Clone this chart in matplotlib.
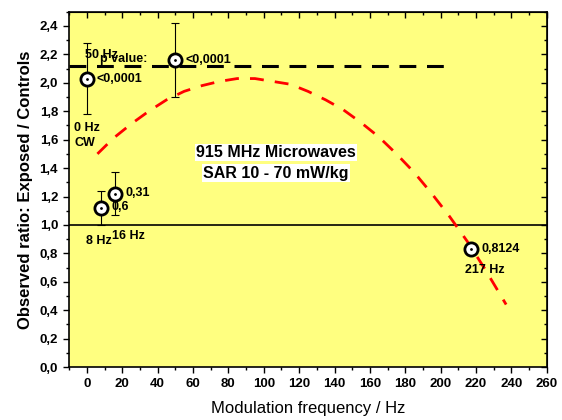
import matplotlib
matplotlib.use("Agg")
import matplotlib.pyplot as plt
from matplotlib.ticker import MultipleLocator, FuncFormatter

plt.rcParams["font.family"] = ["Liberation Sans", "DejaVu Sans"]

# -- Data
freq = [0, 8, 16, 50, 217]
ratio = [2.03, 1.12, 1.22, 2.16, 0.83]
err_low = [0.25, 0.12, 0.15, 0.26, 0.04]
err_high = [0.25, 0.12, 0.15, 0.26, 0.04]
p_labels = ["<0,0001", "0,6", "0,31", "<0,0001", "0,8124"]

# fitted trend (red dashed)
fit_x = [6, 15, 25, 35, 45, 55, 65, 75, 85, 95, 105, 115, 125,
         135, 145, 155, 165, 175, 185, 195, 205, 215, 225, 237]
fit_y = [1.50, 1.61, 1.71, 1.80, 1.88, 1.94, 1.98, 2.01, 2.03, 2.03,
         2.01, 1.99, 1.94, 1.88, 1.81, 1.72, 1.62, 1.50, 1.37, 1.22,
         1.06, 0.885, 0.69, 0.44]

# significance threshold line
thr_x = [-10, 206]
thr_y = [2.12, 2.12]

BG = "#FFFF80"

fig = plt.figure(figsize=(5.62, 4.2), dpi=100)
ax = fig.add_axes([0.123, 0.126, 0.850, 0.846])
ax.set_facecolor(BG)

ax.axhline(1.0, color="black", linewidth=1.2, zorder=2)
ax.plot(thr_x, thr_y, color="black", linewidth=2.2,
        dashes=(5.5, 3.5), zorder=2)
ax.plot(fit_x, fit_y, color="red", linewidth=2.0,
        dashes=(5, 4), zorder=3)

ax.errorbar(freq, ratio, yerr=[err_low, err_high], fmt="none",
            ecolor="black", elinewidth=0.8, capsize=3, capthick=0.8,
            zorder=4)
ax.plot(freq, ratio, "o", markersize=9.5, markerfacecolor="white",
        markeredgecolor="black", markeredgewidth=2, zorder=5)
ax.plot(freq, ratio, ".", markersize=2, color="black", zorder=6)

tkw = dict(fontsize=9, fontweight="bold", va="center", zorder=7)
ax.text(5.5, 2.03, p_labels[0], **tkw)
ax.text(14, 1.125, p_labels[1], **tkw)
ax.text(22, 1.225, p_labels[2], **tkw)
ax.text(56, 2.16, p_labels[3], **tkw)
ax.text(223, 0.83, p_labels[4], **tkw)

ax.text(-1, 2.195, "50 Hz", **tkw)
ax.text(7.5, 2.17, "p value:", **tkw)
ax.text(-7, 1.68, "0 Hz", **tkw)
ax.text(-7, 1.575, "CW", **tkw)
ax.text(-0.5, 0.89, "8 Hz", **tkw)
ax.text(14, 0.925, "16 Hz", **tkw)
ax.text(214, 0.68, "217 Hz", **tkw)

box = dict(facecolor="white", edgecolor="none", pad=1)
ax.text(107, 1.51, "915 MHz Microwaves", ha="center", va="center",
        fontsize=11.5, fontweight="bold", bbox=box, zorder=7)
ax.text(107, 1.365, "SAR 10 - 70 mW/kg", ha="center", va="center",
        fontsize=11.5, fontweight="bold", bbox=box, zorder=7)

ax.set_xlim(-10, 260)
ax.set_ylim(0, 2.5)
ax.xaxis.set_major_locator(MultipleLocator(20))
ax.xaxis.set_minor_locator(MultipleLocator(10))
ax.yaxis.set_major_locator(MultipleLocator(0.2))
ax.yaxis.set_minor_locator(MultipleLocator(0.1))
ax.yaxis.set_major_formatter(
    FuncFormatter(lambda v, p: f"{v:.1f}".replace(".", ",")))

ax.tick_params(which="both", direction="out", top=False, right=False,
               labelsize=9.5, width=1)
ax.tick_params(which="major", length=4.5)
ax.tick_params(which="minor", length=2.5)
for lbl in ax.get_xticklabels() + ax.get_yticklabels():
    lbl.set_fontweight("bold")

# inward ticks on top and right
ax_top = ax.secondary_xaxis("top")
ax_top.xaxis.set_major_locator(MultipleLocator(20))
ax_top.xaxis.set_minor_locator(MultipleLocator(10))
ax_top.tick_params(which="both", direction="in", labeltop=False, width=1)
ax_top.tick_params(which="major", length=4.5)
ax_top.tick_params(which="minor", length=2.5)
ax_right = ax.secondary_yaxis("right")
ax_right.yaxis.set_major_locator(MultipleLocator(0.2))
ax_right.yaxis.set_minor_locator(MultipleLocator(0.1))
ax_right.tick_params(which="both", direction="in", labelright=False,
                     width=1)
ax_right.tick_params(which="major", length=4.5)
ax_right.tick_params(which="minor", length=2.5)

for s in ax.spines.values():
    s.set_linewidth(1.2)

ax.set_xlabel("Modulation frequency / Hz", fontsize=12, labelpad=8)
ax.set_ylabel("Observed ratio: Exposed / Controls", fontsize=12,
              fontweight="bold", labelpad=5)

fig.savefig("out.png", dpi=100)
